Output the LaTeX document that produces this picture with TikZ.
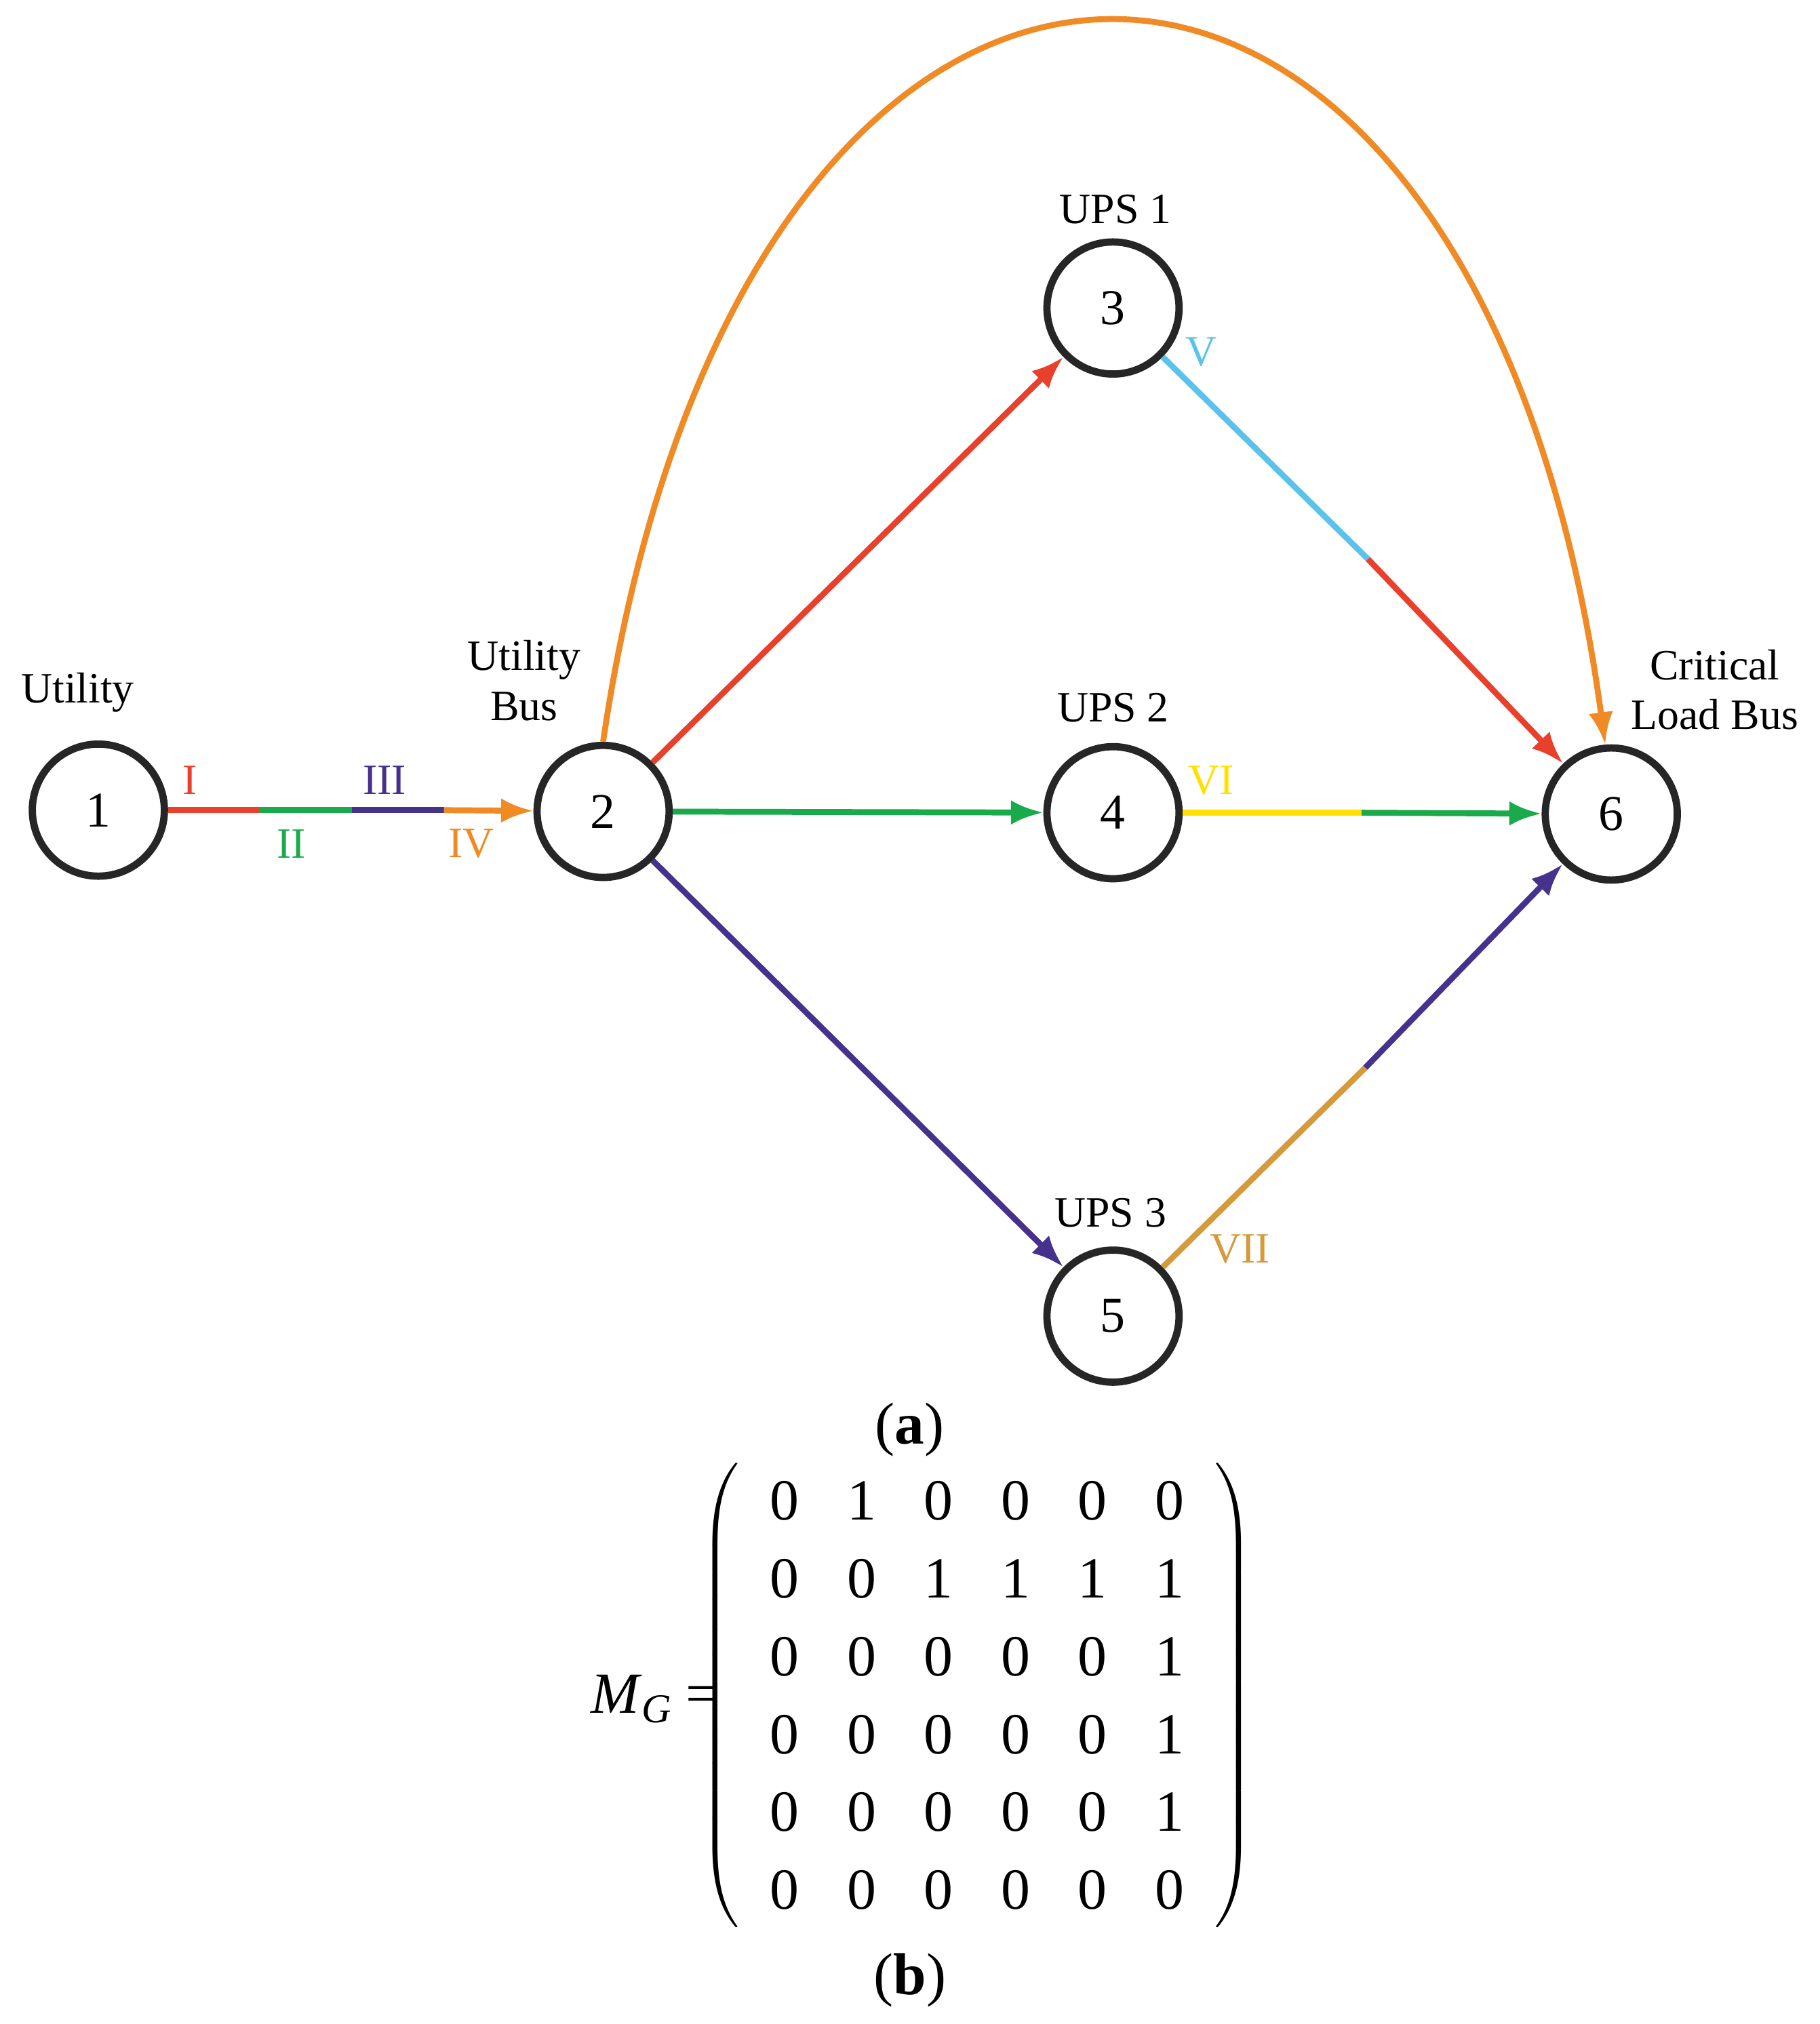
\documentclass[tikz,border=0pt]{standalone}
\usepackage{fontspec}
\setmainfont{Liberation Serif}
\usetikzlibrary{arrows.meta,matrix}
\definecolor{cr}{HTML}{E8402A}
\definecolor{cg}{HTML}{1BAA4B}
\definecolor{cp}{HTML}{46318C}
\definecolor{co}{HTML}{F08A24}
\definecolor{cc}{HTML}{5BC3EA}
\definecolor{cy}{HTML}{FFE000}
\definecolor{ct}{HTML}{D49A3C}
\begin{document}
\begin{tikzpicture}[x=0.01cm,y=-0.01cm,
  bus/.style={circle,draw=black!85,line width=1.6pt,minimum size=1.02cm,inner sep=0pt,font=\fontsize{11}{13}\selectfont},
  e/.style={line width=1.3pt},
  a/.style={e,-{Latex[length=0.25cm,width=0.19cm]}},
  lab/.style={font=\fontsize{9.5}{11}\selectfont,align=center},
  elab/.style={font=\fontsize{9.5}{11}\selectfont}]
\useasboundingbox (0,0) rectangle (1406,1564);
\node[bus] (n1) at (76,626) {1};
\node[bus] (n2) at (466,627) {2};
\node[bus] (n3) at (860,238) {3};
\node[bus] (n4) at (860,628) {4};
\node[bus] (n5) at (860,1017) {5};
\node[bus] (n6) at (1245,629) {6};
\node[lab] (l1) at (60,535) {Utility};
\node[lab] (l2) at (405,526) {Utility\\Bus};
\node[lab] (l3) at (862,162) {UPS 1};
\node[lab] (l4) at (860,547) {UPS 2};
\node[lab] (l5) at (858,937) {UPS 3};
\node[lab] (l6) at (1325,533) {Critical\\Load Bus};
% 1 -> 2
\coordinate (s1) at (200,626);
\coordinate (s2) at (272,626);
\coordinate (s3) at (343,626);
\draw[e,cr] (n1) -- (s1);
\draw[e,cg] (s1) -- (s2);
\draw[e,cp] (s2) -- (s3);
\draw[a,co] (s3) -- (n2);
\node[elab,text=cr] (tI) at (147,603) {I};
\node[elab,text=cg] (tII) at (225,652) {II};
\node[elab,text=cp] (tIII) at (297,603) {III};
\node[elab,text=co] (tIV) at (364,652) {IV};
% from 2
\draw[a,cr] (n2) -- (n3);
\draw[a,cg] (n2) -- (n4);
\draw[a,cp] (n2) -- (n5);
% to 6
\coordinate (m3) at (1057,432);
\coordinate (m4) at (1052,628);
\coordinate (m5) at (1055,825);
\draw[e,cc] (n3) -- (m3);
\draw[a,cr] (m3) -- (n6);
\draw[e,cy] (n4) -- (m4);
\draw[a,cg] (m4) -- (n6);
\draw[e,ct] (n5) -- (m5);
\draw[a,cp] (m5) -- (n6);
\node[elab,text=cc] (tV) at (928,272) {V};
\node[elab,text=cy] (tVI) at (936,603) {VI};
\node[elab,text=ct] (tVII) at (958,965) {VII};
% 2 -> 6 arc
\draw[a,co] (n2.90) .. controls (575,-168) and (1140,-168) .. (n6.95);
\node[font=\fontsize{13}{15}\selectfont] (ta) at (703,1105) {(\textbf{a})};
\matrix (M) [matrix of nodes,inner sep=0pt,
  left delimiter=(,right delimiter=),
  every left delimiter/.style={xshift=0.36cm},
  every right delimiter/.style={xshift=-0.36cm},
  nodes={font=\fontsize{12.8}{15}\selectfont,minimum width=0.595cm,minimum height=0.6cm,inner sep=0pt},
  column sep=0pt,row sep=0pt] at (755,1310) {
0&1&0&0&0&0\\
0&0&1&1&1&1\\
0&0&0&0&0&1\\
0&0&0&0&0&1\\
0&0&0&0&0&1\\
0&0&0&0&0&0\\};
\node[font=\fontsize{12.8}{15}\selectfont,anchor=east] (mg) at (568,1313) {\textit{M}\raisebox{-0.35ex}{\fontsize{9}{10}\selectfont\textit{G}} =};
\node[font=\fontsize{13}{15}\selectfont] (tb) at (703,1530) {(\textbf{b})};
\end{tikzpicture}
\end{document}
